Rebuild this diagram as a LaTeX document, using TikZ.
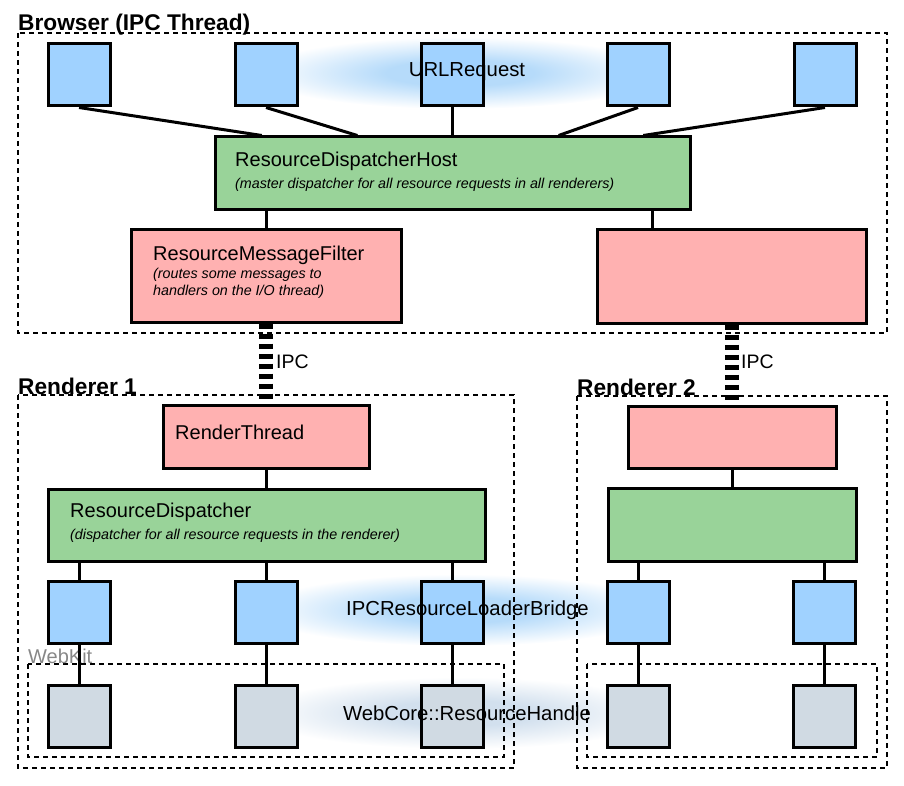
\documentclass[tikz,border=0pt]{standalone}
\usepackage{fontspec}
\setmainfont{Liberation Sans}
\usetikzlibrary{calc}
\definecolor{cblue}{HTML}{A0D2FF}
\definecolor{cgreen}{HTML}{99D399}
\definecolor{cpink}{HTML}{FFB1B1}
\definecolor{cgray}{HTML}{D0DAE3}
\definecolor{glowblue}{HTML}{B6DBFA}
\definecolor{glowgray}{HTML}{D2E0EE}
\pgfdeclareradialshading{glowbshade}{\pgfpoint{0bp}{0bp}}{color(0bp)=(glowblue); color(9bp)=(glowblue); color(25bp)=(white); color(50bp)=(white)}
\pgfdeclareradialshading{glowgshade}{\pgfpoint{0bp}{0bp}}{color(0bp)=(glowgray); color(9bp)=(glowgray); color(25bp)=(white); color(50bp)=(white)}
\begin{document}
\begin{tikzpicture}[x=1pt,y=-1pt,
  box/.style={draw=black,line width=3pt,inner sep=0pt},
  sq/.style={box,minimum width=62pt,minimum height=62pt},
  bluesq/.style={sq,fill=cblue},
  graysq/.style={sq,fill=cgray},
  conn/.style={line width=3pt},
  dashbox/.style={line width=1.2pt,dash pattern=on 5pt off 4pt},
  ipc/.style={line width=14pt,dash pattern=on 5.5pt off 4.5pt},
  title/.style={font=\fontsize{22.7}{26}\selectfont\bfseries,inner sep=0pt,anchor=base west},
  mainlbl/.style={font=\fontsize{20}{23}\selectfont,inner sep=0pt,anchor=west},
  sublbl/.style={font=\fontsize{14.3}{17}\selectfont\itshape,inner sep=0pt,anchor=west,align=left},
  glowlbl/.style={font=\fontsize{20.3}{23}\selectfont,inner sep=0pt},
  ipclbl/.style={font=\fontsize{19.5}{22}\selectfont,inner sep=0pt,anchor=west}
]
\useasboundingbox (0,0) rectangle (904,786);

% glows
\shade[shading=glowbshade] (460,73) ellipse (205 and 36);
\shade[shading=glowbshade] (460,610) ellipse (205 and 36);
\shade[shading=glowgshade] (460,713) ellipse (205 and 36);

% dashed containers
\draw[dashbox] (18,33) rectangle (887,333);
\draw[dashbox] (18,395) rectangle (514,768);
\draw[dashbox] (577,396) rectangle (887,768);
\draw[dashbox] (28,664) rectangle (504,757);
\draw[dashbox] (587,664) rectangle (877,757);

\node[title] (tbrowser) at (18,31) {Browser (IPC Thread)};
\node[title] (tr1) at (18,394) {Renderer 1};
\node[title] (tr2) at (577,395) {Renderer 2};
\node[font=\fontsize{20}{23}\selectfont,text=black!47,inner sep=0pt,anchor=base west] (twk) at (28,663) {WebKit};

% browser
\node[bluesq] (u1) at (79,75) {};
\node[bluesq] (u2) at (266,75) {};
\node[bluesq] (u3) at (452,75) {};
\node[bluesq] (u4) at (638,75) {};
\node[bluesq] (u5) at (825,75) {};
\node[box,fill=cgreen,minimum width=475pt,minimum height=73pt] (rdh) at (452.5,173.5) {};
\node[box,fill=cpink,minimum width=270pt,minimum height=92pt] (rmf) at (266,276) {};
\node[box,fill=cpink,minimum width=269pt,minimum height=93pt] (rmf2) at (731.5,276.5) {};

\draw[conn] (u1.south) -- ($(rdh.north west)!0.101!(rdh.north east)$);
\draw[conn] (u2.south) -- ($(rdh.north west)!0.301!(rdh.north east)$);
\draw[conn] (u3.south) -- (u3.south |- rdh.north);
\draw[conn] (u4.south) -- ($(rdh.north west)!0.722!(rdh.north east)$);
\draw[conn] (u5.south) -- ($(rdh.north west)!0.899!(rdh.north east)$);
\draw[conn] (rmf.north |- rdh.south) -- (rmf.north);
\draw[conn] (652,0 |- rdh.south) -- (652,0 |- rmf2.north);

\node[mainlbl] (lrdh) at (235,161) {ResourceDispatcherHost};
\node[sublbl] (lrdhs) at (235,185) {(master dispatcher for all resource requests in all renderers)};
\node[mainlbl] (lrmf) at (153,255) {ResourceMessageFilter};
\node[sublbl,anchor=north west] (lrmfs) at (153,268) {(routes some messages to\\handlers on the I/O thread)};
\node[glowlbl] (lurl) at (467,72) {URLRequest};

% renderer 1
\node[box,fill=cpink,minimum width=206pt,minimum height=63pt] (rt) at (266,436.5) {};
\node[box,fill=cgreen,minimum width=437pt,minimum height=72pt] (rd) at (266.5,525) {};
\node[bluesq] (b1) at (79.5,612.5) {};
\node[bluesq] (b2) at (266,612.5) {};
\node[bluesq] (b3) at (452,612.5) {};
\node[graysq] (g1) at (79.5,716) {};
\node[graysq] (g2) at (266,716) {};
\node[graysq] (g3) at (452,716) {};
\draw[conn] (rt.south) -- (rt.south |- rd.north);
\foreach \i in {1,2,3} {
  \draw[conn] (b\i.north |- rd.south) -- (b\i.north);
  \draw[conn] (b\i.south) -- (g\i.north);
}
\node[mainlbl] (lrt) at (175,432) {RenderThread};
\node[mainlbl] (lrd) at (70,512) {ResourceDispatcher};
\node[sublbl] (lrds) at (70,536) {(dispatcher for all resource requests in the renderer)};

% renderer 2
\node[box,fill=cpink,minimum width=208pt,minimum height=62pt] (rt2) at (732,437) {};
\node[box,fill=cgreen,minimum width=248pt,minimum height=73pt] (rd2) at (732,524.5) {};
\node[bluesq] (c1) at (638.5,612.5) {};
\node[bluesq] (c2) at (824.5,612.5) {};
\node[graysq] (h1) at (638.5,716) {};
\node[graysq] (h2) at (824.5,716) {};
\draw[conn] (rt2.south) -- (rt2.south |- rd2.north);
\foreach \i in {1,2} {
  \draw[conn] (c\i.north |- rd2.south) -- (c\i.north);
  \draw[conn] (c\i.south) -- (h\i.north);
}

\node[glowlbl] (lipcb) at (467.5,610) {IPCResourceLoaderBridge};
\node[glowlbl] (lwc) at (467,713) {WebCore::ResourceHandle};

% IPC
\draw[ipc] (rmf.south) -- (rt.north);
\draw[ipc] (rmf2.south -| rt2.north) -- (rt2.north);
\node[ipclbl] (lipc1) at (276,362) {IPC};
\node[ipclbl] (lipc2) at (741,362) {IPC};
\end{tikzpicture}
\end{document}
